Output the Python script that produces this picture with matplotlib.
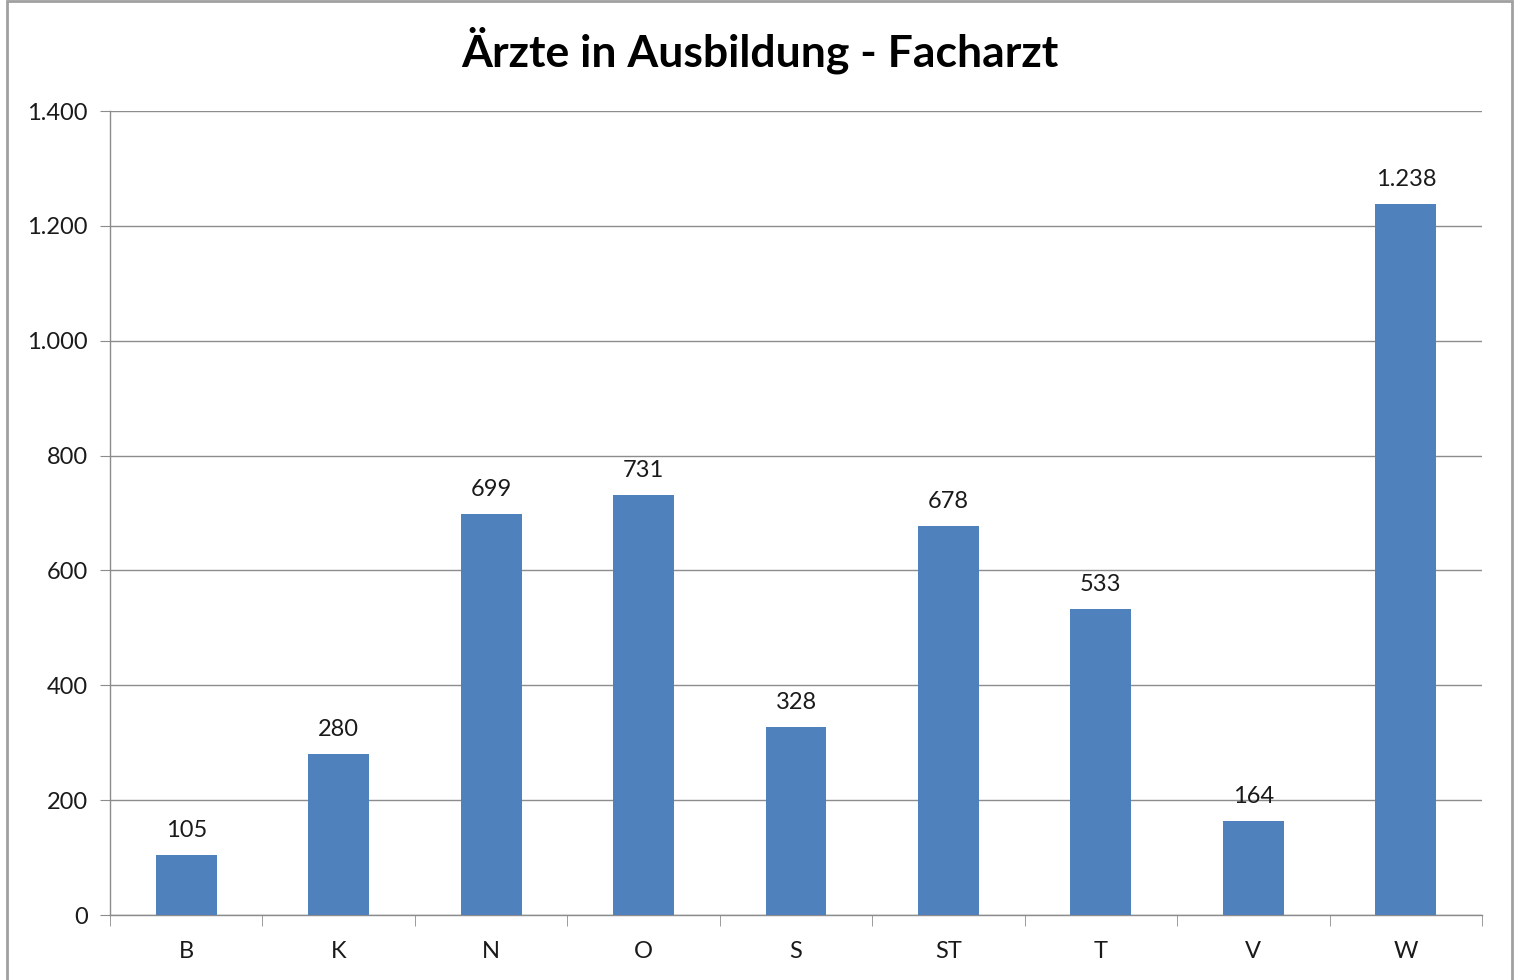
"""Ärzte in Ausbildung - Facharzt: bar chart per Bundesland."""

import matplotlib

matplotlib.use("Agg")
import matplotlib.pyplot as plt
from matplotlib.patches import Rectangle
from matplotlib.ticker import FixedLocator, FuncFormatter

CATEGORIES = ["B", "K", "N", "O", "S", "ST", "T", "V", "W"]
VALUES = [105, 280, 699, 731, 328, 678, 533, 164, 1238]
Y_TICKS = [0, 200, 400, 600, 800, 1000, 1200, 1400]
TITLE = "Ärzte in Ausbildung - Facharzt"

BAR_COLOR = "#4F81BD"
GRID_COLOR = "#8C8C8C"


def de_number(value, _pos=None):
    return f"{int(value):,}".replace(",", ".")


plt.rcParams["font.family"] = ["Lato", "DejaVu Sans"]

fig = plt.figure(figsize=(15.19, 9.8), dpi=100)
ax = fig.add_axes([110 / 1519, 65 / 980, 1372 / 1519, 804 / 980])

positions = list(range(len(CATEGORIES)))
bars = ax.bar(positions, VALUES, width=0.4, color=BAR_COLOR, zorder=3)

for bar, value in zip(bars, VALUES):
    ax.annotate(
        de_number(value),
        (bar.get_x() + bar.get_width() / 2, value),
        xytext=(0, 10),
        textcoords="offset points",
        ha="center",
        va="bottom",
        fontsize=17,
        color="#1a1a1a",
    )

ax.set_xlim(-0.5, len(CATEGORIES) - 0.5)
ax.set_ylim(0, 1400)
ax.set_yticks(Y_TICKS)
ax.yaxis.set_major_formatter(FuncFormatter(de_number))
ax.set_xticks(positions)
ax.set_xticklabels(CATEGORIES)
ax.xaxis.set_minor_locator(FixedLocator([p - 0.5 for p in positions] + [len(CATEGORIES) - 0.5]))

ax.grid(axis="y", color=GRID_COLOR, linewidth=1.0, zorder=0)
ax.set_axisbelow(True)
for side in ("top", "right"):
    ax.spines[side].set_visible(False)
for side in ("left", "bottom"):
    ax.spines[side].set_color(GRID_COLOR)
    ax.spines[side].set_linewidth(1.0)

ax.tick_params(axis="y", which="major", length=7, color=GRID_COLOR,
               labelsize=17, pad=9, labelcolor="#1a1a1a")
ax.tick_params(axis="x", which="major", length=0, labelsize=17, pad=19,
               labelcolor="#1a1a1a")
ax.tick_params(axis="x", which="minor", length=8, color=GRID_COLOR)

fig.text(0.5, 1 - 50 / 980, TITLE, ha="center", va="center",
         fontsize=32, fontweight="bold", color="#000000")

fig.patches.append(
    Rectangle((7 / 1519, -0.01), (1512 - 7) / 1519, 1.009,
              transform=fig.transFigure, fill=False,
              edgecolor="#A0A0A0", linewidth=2.0)
)

fig.savefig("out.png", dpi=100, facecolor="white")
